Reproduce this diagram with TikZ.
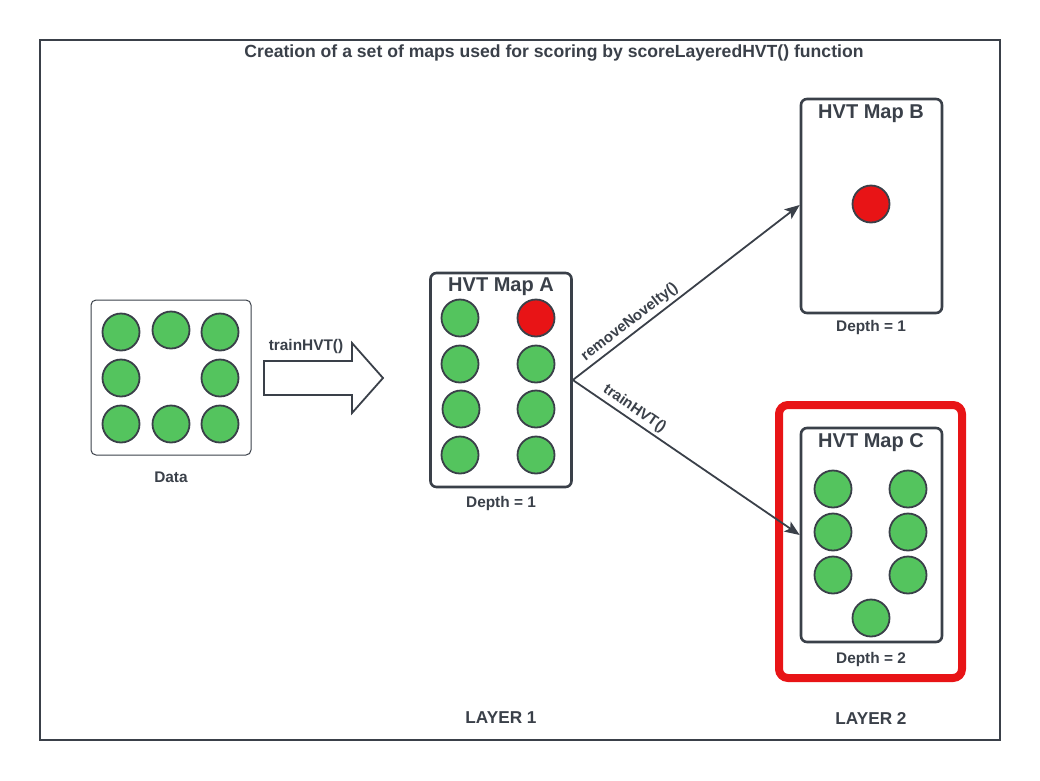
\documentclass[tikz,border=0pt]{standalone}
\usepackage{fontspec}
\setmainfont{Liberation Sans}
\usetikzlibrary{arrows.meta}
\definecolor{ink}{HTML}{3A4049}
\definecolor{dotgreen}{HTML}{54C45E}
\definecolor{dotred}{HTML}{E81416}
\tikzset{
  dot/.style={circle, draw=ink, line width=1.8pt, fill=dotgreen, minimum size=37pt, inner sep=0},
  reddot/.style={dot, fill=dotred},
  mapbox/.style={draw=ink, line width=2.6pt, rounded corners=6pt, fill=white, inner sep=0},
  maptitle/.style={font=\bfseries\fontsize{20}{23}\selectfont, text=ink},
  caption/.style={font=\bfseries\fontsize{15.4}{18}\selectfont, text=ink},
  layerlabel/.style={font=\bfseries\fontsize{17.2}{20}\selectfont, text=ink},
  flow/.style={draw=ink, line width=1.8pt, -{Stealth[length=15pt, width=12pt, inset=3.5pt]}},
  edgelabel/.style={font=\bfseries\fontsize{15}{17}\selectfont, text=ink, sloped, above, inner sep=3pt}
}
\begin{document}
\begin{tikzpicture}[x=1pt, y=-1pt]
  \useasboundingbox (0,0) rectangle (1040,780);
  % outer frame and heading
  \draw[ink, line width=2pt] (40,40) rectangle (1000,740);
  \node[font=\bfseries\fontsize{17.6}{21}\selectfont, text=ink] (title) at (554,53)
    {Creation of a set of maps used for scoring by scoreLayeredHVT() function};

  % input data
  \node[draw=ink, line width=1pt, rounded corners=5pt, minimum width=160pt, minimum height=155pt, inner sep=0] (data) at (171,377.5) {};
  \foreach \x/\y [count=\i] in {121/332, 171/330, 220/332, 121/378, 220/378, 121/424, 171/424, 220/424}
    \node[dot] (d\i) at (\x,\y) {};
  \node[caption] (datalbl) at (171,477) {Data};

  % training step
  \draw[ink, line width=1.8pt, fill=white, line join=miter]
    (264,361) -- (352,361) -- (352,343) -- (383,378) -- (352,413) -- (352,395) -- (264,395) -- cycle;
  \node[caption] (trainlbl) at (306,347) {trainHVT()};

  % HVT Map A
  \node[mapbox, minimum width=141pt, minimum height=214pt] (mapA) at (501,380) {};
  \node[maptitle] (mapAt) at (501,287) {HVT Map A};
  \node[dot] (a1) at (460,318) {};
  \node[reddot] (a2) at (536,318) {};
  \node[dot] (a3) at (460,364) {};
  \node[dot] (a4) at (536,364) {};
  \node[dot] (a5) at (461,409) {};
  \node[dot] (a6) at (536,409) {};
  \node[dot] (a7) at (460,455) {};
  \node[dot] (a8) at (536,455) {};
  \node[caption] (mapAd) at (501,504) {Depth = 1};

  % HVT Map B
  \node[mapbox, minimum width=141pt, minimum height=214pt] (mapB) at (871.5,206) {};
  \node[maptitle] (mapBt) at (871,114) {HVT Map B};
  \node[reddot] (b1) at (871,204) {};
  \node[caption] (mapBd) at (871,328) {Depth = 1};

  % HVT Map C, highlighted
  \node[draw=dotred, line width=8pt, rounded corners=9pt, minimum width=183pt, minimum height=273pt, inner sep=0] (hilite) at (870.5,541.5) {};
  \node[mapbox, minimum width=141pt, minimum height=214pt] (mapC) at (871.5,535) {};
  \node[maptitle] (mapCt) at (871,443) {HVT Map C};
  \node[dot] (c1) at (833,489) {};
  \node[dot] (c2) at (908,489) {};
  \node[dot] (c3) at (833,532) {};
  \node[dot] (c4) at (908,532) {};
  \node[dot] (c5) at (833,575) {};
  \node[dot] (c6) at (908,575) {};
  \node[dot] (c7) at (871,618) {};
  \node[caption] (mapCd) at (871,660) {Depth = 2};

  % derivation of the second-layer maps
  \draw[flow] (mapA.east) -- node[edgelabel, pos=0.28] {removeNovelty()} ([yshift=1pt]mapB.west);
  \draw[flow] (mapA.east) -- node[edgelabel, pos=0.245] {trainHVT()} (mapC.west);

  % layer labels
  \node[layerlabel] (layer1) at (501,718) {LAYER 1};
  \node[layerlabel] (layer2) at (871,718) {LAYER 2};
\end{tikzpicture}
\end{document}
